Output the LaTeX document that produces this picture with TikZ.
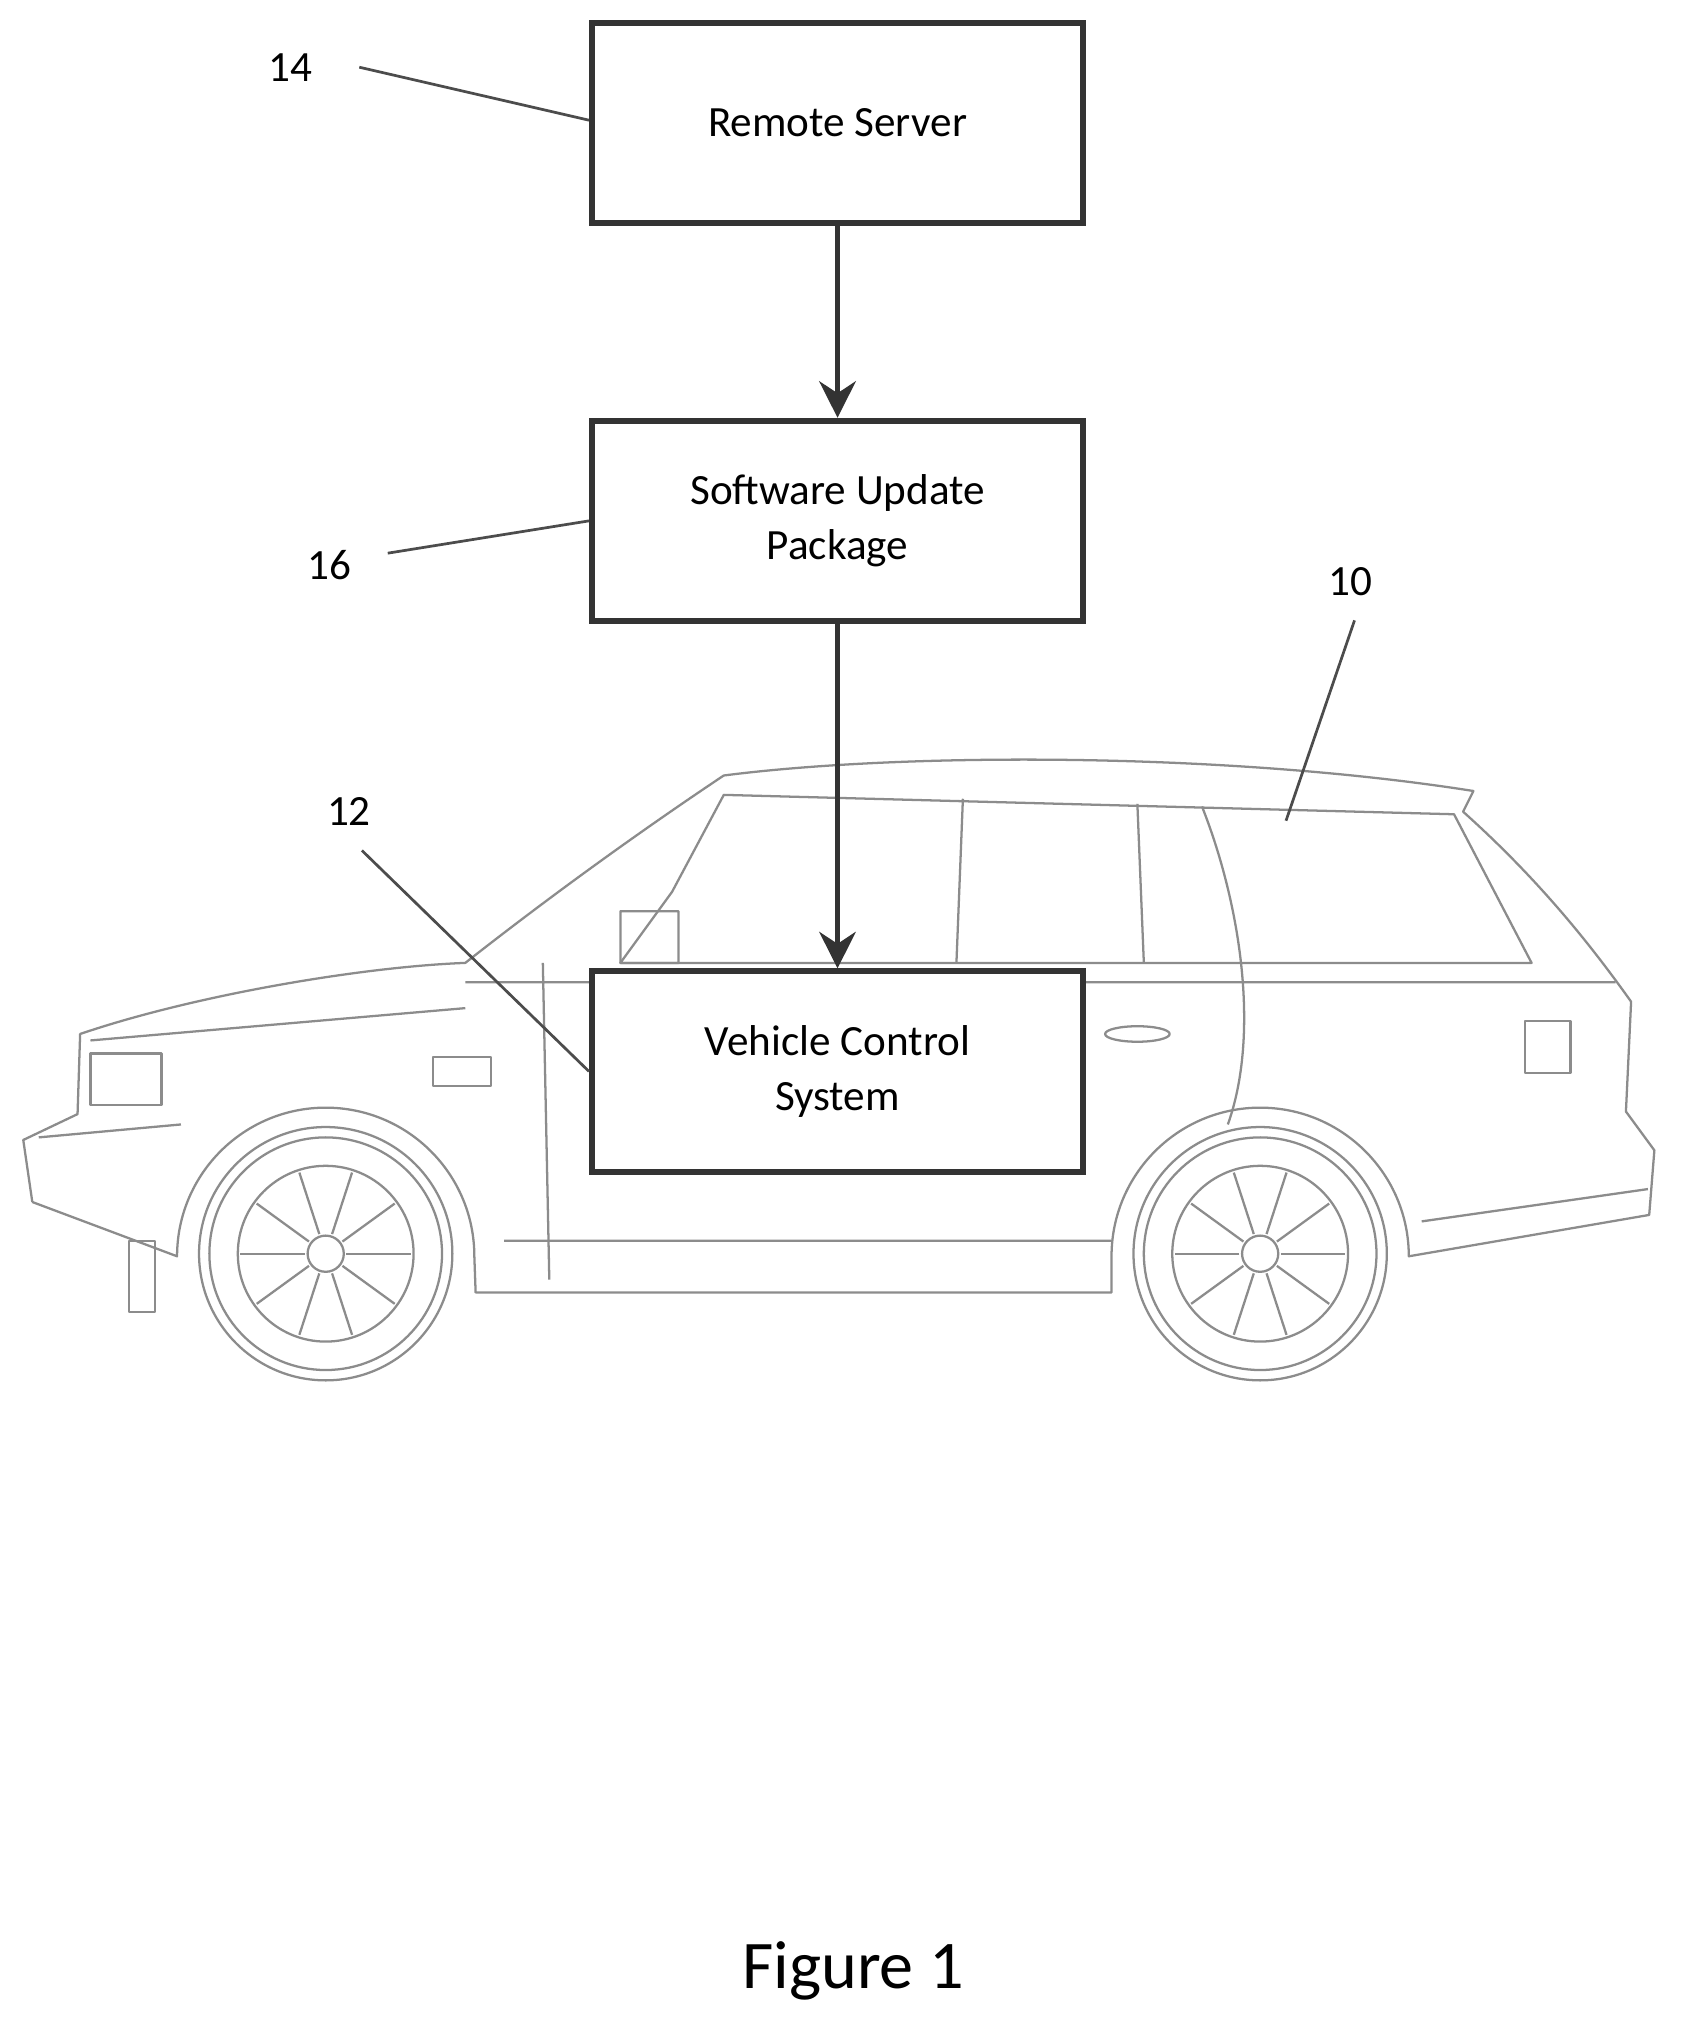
\documentclass[tikz,border=0pt]{standalone}
\usepackage{fontspec}
\setmainfont{Carlito}
\usetikzlibrary{arrows.meta}
\usetikzlibrary{calc}
\tikzset{
  blk/.style={draw=black!80,line width=1.3pt,fill=white,minimum width=38mm,minimum height=15.5mm,align=center,font=\fontsize{9.5}{12}\selectfont,inner sep=0pt},
  ref/.style={inner sep=1pt,font=\fontsize{9.5}{11}\selectfont},
  lead/.style={black!70,line width=0.6pt},
  flow/.style={black!80,line width=1.3pt,-{Stealth[length=8pt,width=8pt]}},
  car/.style={black!45,line width=0.5pt,line join=round}
}
\begin{document}
\begin{tikzpicture}[x=0.1mm,y=-0.1mm]
    \useasboundingbox[fill=white] (0,0) rectangle (1300,1566);
    % vehicle outline
    \draw[car] (25,930) -- (18,882) -- (60,862) -- (62,800) .. controls (150,770) and (280,748) .. (360,745)
      .. controls (430,690) and (500,640) .. (560,600) .. controls (700,582) and (950,582) .. (1140,612)
      -- (1132,628) .. controls (1190,680) and (1230,730) .. (1262,775) -- (1258,860) -- (1280,890) -- (1276,940)
      -- (1090,972) arc[start angle=0,end angle=-180,radius=115] -- (860,1000) -- (368,1000) -- (367,972)
      arc[start angle=0,end angle=-180,radius=115] -- (25,930);
    \draw[car] (560,615) -- (1125,630) -- (1185,745) -- (480,745) -- (520,690) -- cycle;
    \draw[car] (745,618) -- (740,745) (880,622) -- (885,745) (930,624) .. controls (960,700) and (975,800) .. (950,870);
    \draw[car] (360,760) -- (1250,760) (70,805) -- (360,780) (420,745) -- (425,990) (480,705) rectangle (525,745);
    \draw[car] (30,880) -- (140,870) (390,960) -- (860,960) (1100,945) -- (1275,920);
    \draw[car] (335,818) rectangle (380,840) (1180,790) rectangle (1215,830);
    \draw[car] (880,800) ellipse[x radius=25,y radius=6];
    \draw[car] (70,815) rectangle (125,855) (100,960) rectangle (120,1015);
    \foreach \cx in {252,975}{
      \draw[car] (\cx,970) circle[radius=98] (\cx,970) circle[radius=90] (\cx,970) circle[radius=68] (\cx,970) circle[radius=14];
      \foreach \a in {0,36,...,324}
        \draw[car] ($(\cx,970)+(\a:16)$) -- ($(\cx,970)+(\a:66)$);
    }
    % blocks
    \node[blk] (srv) at (648,95) {Remote Server};
    \node[blk] (pkg) at (648,403) {Software Update\\Package};
    \node[blk] (vcs) at (648,829) {Vehicle Control\\System};
    \draw[flow] (srv) -- (pkg);
    \draw[flow] (pkg) -- (vcs);
    % reference numerals
    \node[ref] (n14) at (225,52) {14};
    \node[ref] (n16) at (255,437) {16};
    \node[ref] (n12) at (270,628) {12};
    \node[ref] (n10) at (1045,450) {10};
    \coordinate (e14) at (278,52);
    \coordinate (e16) at (300,428);
    \coordinate (e12) at (280,658);
    \coordinate (e10) at (1048,480);
    \coordinate (t10) at (995,635);
    \draw[lead] (e14) -- (srv.west|-0,93);
    \draw[lead] (e16) -- (pkg.west);
    \draw[lead] (e12) -- (vcs.west);
    \draw[lead] (e10) -- (t10);
    \node[font=\fontsize{15}{18}\selectfont] (fig) at (660,1525) {Figure 1};
\end{tikzpicture}
\end{document}
